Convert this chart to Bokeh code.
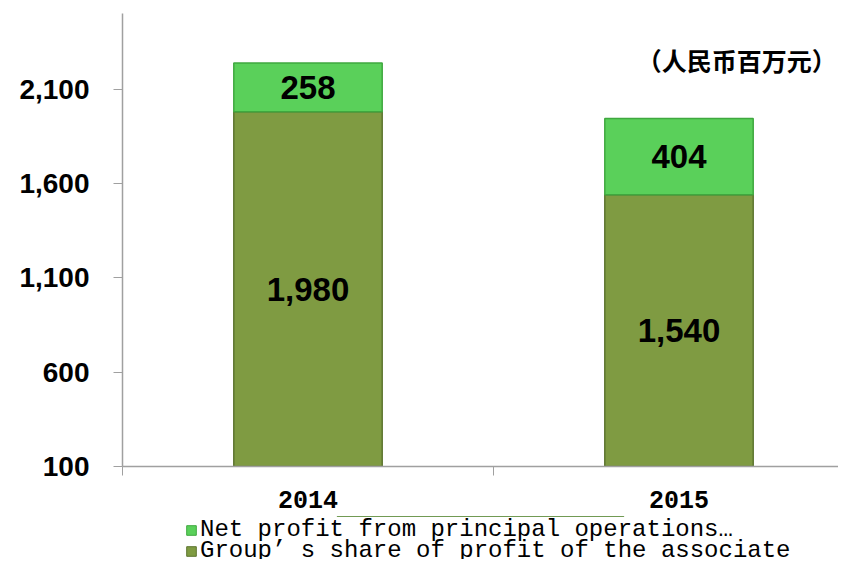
import numpy as np
from bokeh.plotting import figure
from bokeh.layouts import column
from bokeh.models import (FixedTicker, NumeralTickFormatter, LinearAxis, Legend, LegendItem,
                          Label, Range1d, ColumnDataSource)
from bokeh.core.properties import value
from bokeh.embed import file_html
from bokeh.resources import INLINE

# ---- data ----
years = ["2014", "2015"]
associate = [1980, 1540]          # Group's share of profit of the associate
principal = [258, 404]            # Net profit from principal operations
y_ticks = [100, 600, 1100, 1600, 2100]
series_names = ["Net profit from principal operations\u2026",
                "Group\u2019 s share of profit of the associate"]
unit_text = "\uff08人民币百万元\uff09"

Y_MIN, Y_MAX = 100, 2500
xs = np.arange(len(years)) + 0.5
assoc = np.array(associate, dtype=float)
princ = np.array(principal, dtype=float)

src = ColumnDataSource(dict(
    x=xs, a=assoc, top=assoc + princ,
    a_mid=(np.maximum(Y_MIN, 0) + assoc) / 2, p_mid=assoc + princ / 2,
    a_lab=[f"{v:,.0f}" for v in assoc], p_lab=[f"{v:,.0f}" for v in princ],
))

W, H_MAIN, H_LEG = 838, 516, 43
LEFT, TOP, BOTTOM_Y = 122, 13, 466
CAT_PX = 371
OLIVE, OLIVE_EDGE = "#7f9b42", "#5d7530"
GREEN, GREEN_EDGE = "#5ad05a", "#3fa83f"

p = figure(width=W, height=H_MAIN, output_backend="svg", toolbar_location=None,
           x_range=Range1d(0, (W - LEFT) / CAT_PX), y_range=Range1d(Y_MIN, Y_MAX),
           min_border_left=LEFT, min_border_right=0, min_border_top=TOP,
           min_border_bottom=H_MAIN - BOTTOM_Y, x_axis_location=None)
p.outline_line_color = None
p.xgrid.visible = False
p.ygrid.visible = False

p.vbar(x="x", bottom=0, top="a", width=0.4, source=src,
       fill_color=OLIVE, line_color=OLIVE_EDGE, line_width=1.5)
p.vbar(x="x", bottom="a", top="top", width=0.4, source=src,
       fill_color=GREEN, line_color=GREEN_EDGE, line_width=1.5)

lab_font = value("Liberation Sans")
p.text(x="x", y="a_mid", text="a_lab", source=src, text_align="center", text_baseline="middle",
       text_font=lab_font, text_font_style="bold", text_font_size="33px", text_color="black")
p.text(x="x", y="p_mid", text="p_lab", source=src, text_align="center", text_baseline="middle",
       text_font=lab_font, text_font_style="bold", text_font_size="33px", text_color="black")

# y axis
ya = p.yaxis[0]
ya.ticker = FixedTicker(ticks=y_ticks)
ya.formatter = NumeralTickFormatter(format="0,0")
ya.major_label_text_font = "Liberation Sans"
ya.major_label_text_font_style = "bold"
ya.major_label_text_font_size = "28px"
ya.major_label_text_color = "black"
ya.major_tick_out = 9
ya.major_tick_in = 0
ya.minor_tick_line_color = None
ya.axis_line_color = "#a0a0a0"
ya.major_tick_line_color = "#a0a0a0"
ya.axis_line_width = 1.5
ya.major_label_standoff = 24

# x axis: category labels at centres, boundary ticks as minor ticks
xc = LinearAxis(ticker=FixedTicker(ticks=list(xs), minor_ticks=[0, 1, 2]),
                major_label_overrides={float(x): y for x, y in zip(xs, years)},
                axis_line_color="#a0a0a0", axis_line_width=1.5,
                major_tick_line_color=None, major_tick_out=0, major_tick_in=0,
                minor_tick_line_color="#a0a0a0", minor_tick_out=9, minor_tick_in=0,
                major_label_text_font="Liberation Mono", major_label_text_font_style="bold",
                major_label_text_font_size="25px", major_label_text_color="black",
                major_label_standoff=15)
p.add_layout(xc, "below")

# unit label
p.add_layout(Label(x=1.925, y=2254, text=unit_text, text_align="right", text_baseline="middle",
                   text_font="Noto Sans CJK SC", text_font_style="bold", text_font_size="25px",
                   text_color="black"))

# ---- legend strip (its ranges lie away from the data, so only the legends show) ----
lg = figure(width=W, height=H_LEG, output_backend="svg", toolbar_location=None,
            x_range=Range1d(0, 1), y_range=Range1d(-2, -1),
            min_border=0, x_axis_location=None, y_axis_location=None)
lg.outline_line_color = None
lg.xgrid.visible = False
lg.ygrid.visible = False
lr_p = lg.vbar(x="x", bottom="a", top="top", width=0.4, source=src,
               fill_color=GREEN, line_color=GREEN_EDGE, line_width=1)
lr_a = lg.vbar(x="x", bottom=0, top="a", width=0.4, source=src,
               fill_color=OLIVE, line_color=OLIVE_EDGE, line_width=1)

common = dict(orientation="vertical", label_text_font="Liberation Mono",
              label_text_font_size="24px", label_text_color="black",
              glyph_width=12, glyph_height=12, padding=0, margin=0,
              border_line_color=None, background_fill_alpha=0, label_standoff=3)
leg1 = Legend(items=[LegendItem(label=series_names[0], renderers=[lr_p])],
              location=(63, 16), **common)
leg2 = Legend(items=[LegendItem(label=series_names[1], renderers=[lr_a])],
              location=(63, -5), **common)
lg.add_layout(leg1, "center")
lg.add_layout(leg2, "center")

layout = column(p, lg, spacing=0)
open("out.html", "w").write(file_html(layout, INLINE))
